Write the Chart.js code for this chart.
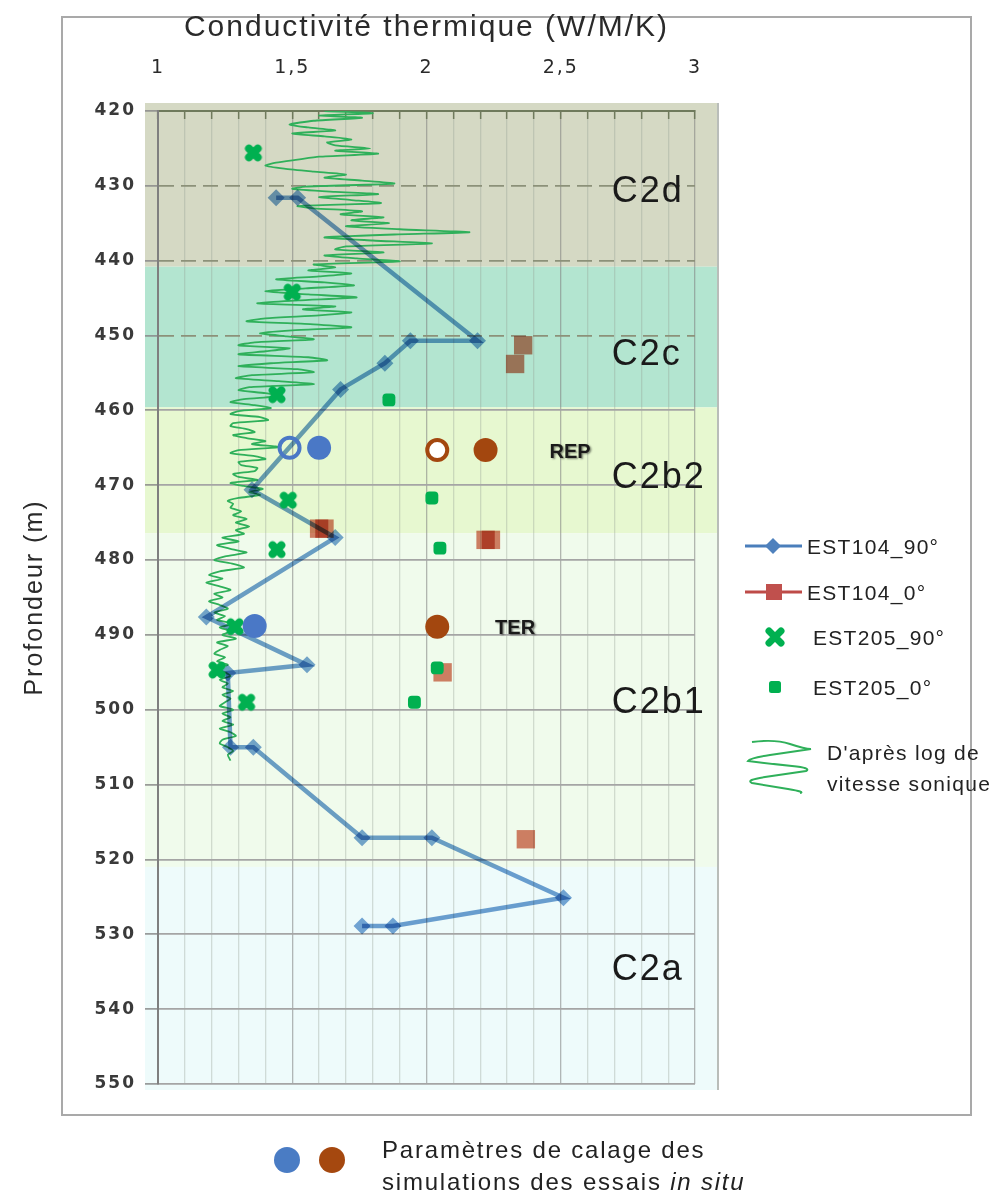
<!DOCTYPE html>
<html>
<head>
<meta charset="utf-8">
<script src="https://cdn.jsdelivr.net/npm/chart.js@4.4.1/dist/chart.umd.min.js"></script>
<style>
html,body{margin:0;padding:0;background:#fff;}
#wrap{position:relative;width:1006px;height:1198px;overflow:hidden;font-family:"Liberation Sans",Arial,sans-serif;}
#frame{position:absolute;left:61px;top:16px;width:911px;height:1100px;border:2px solid #a9a9a9;box-sizing:border-box;}
#c{position:absolute;left:0;top:0;width:1006px;height:1198px;}
#icons{position:absolute;left:0;top:0;width:1006px;height:1198px;pointer-events:none;}
.lg{position:absolute;transform:translateY(-50%);font-size:21px;letter-spacing:1.3px;color:#222;line-height:1;white-space:nowrap;}
.note{position:absolute;transform:translateY(-50%);font-size:24px;letter-spacing:1.8px;color:#222;line-height:1;white-space:nowrap;}
</style>
</head>
<body>
<div id="wrap">
  <div id="frame"></div>
  <canvas id="c" width="1006" height="1198"></canvas>
  <svg id="icons" width="1006" height="1198">
    <line x1="745" y1="546" x2="802" y2="546" stroke="#4a7ebb" stroke-width="3"/>
    <polygon points="773,538 781,546 773,554 765,546" fill="#4f81bd"/>
    <line x1="745" y1="592" x2="802" y2="592" stroke="#be4b48" stroke-width="3"/>
    <rect x="766" y="584" width="16" height="16" fill="#c0504d"/>
    <path d="M769 631 L781 643 M781 631 L769 643" stroke="#00b050" stroke-width="7" stroke-linecap="round" fill="none"/>
    <rect x="769" y="681" width="12" height="12" rx="2.5" fill="#00b050"/>
    <path d="M752 742 Q775 739 790 744 T811 749 Q790 752 770 755 T748 761 Q772 764 792 766 T806 771 Q785 774 765 777 T752 783 Q770 786 788 789 T800 793" stroke="#2fb05a" stroke-width="2" fill="none"/>
    <circle cx="287" cy="1160" r="13" fill="#4a7cc4"/>
    <circle cx="332" cy="1160" r="13" fill="#a5480f"/>
  </svg>
  <div class="lg" style="left:807px;top:546px;">EST104_90°</div>
  <div class="lg" style="left:807px;top:592px;">EST104_0°</div>
  <div class="lg" style="left:813px;top:637px;">EST205_90°</div>
  <div class="lg" style="left:813px;top:687px;">EST205_0°</div>
  <div class="lg" style="left:827px;top:752px;">D'après log de</div>
  <div class="lg" style="left:827px;top:783px;">vitesse sonique</div>
  <div class="note" style="left:382px;top:1150px;">Paramètres de calage des</div>
  <div class="note" style="left:382px;top:1182px;">simulations des essais <i>in situ</i></div>
</div>
<script>
// ---------- DATA ----------
const xMajorTicks = [1, 1.5, 2, 2.5, 3];
const xMajorLabels = ['1', '1,5', '2', '2,5', '3'];

const zoneNames = ['C2d', 'C2c', 'C2b2', 'C2b1', 'C2a'];
const zoneBounds = [420, 440.8, 459.6, 476.4, 521, 550];
const zoneLabelDepth = [430.8, 452.6, 469.0, 499.1, 534.8];
const zoneLabelK = 2.69;

const annotText = ['REP', 'TER'];
const annotK = [2.535, 2.33];
const annotDepth = [465.6, 489.1];

// EST104_90°
const est104_90_K = [1.44, 1.52, 2.19, 1.94, 1.845, 1.68, 1.35, 1.66, 1.18, 1.555, 1.26, 1.27, 1.355, 1.76, 2.02, 2.51, 1.875, 1.76];
const est104_90_D = [431.6, 431.6, 450.7, 450.7, 453.7, 457.2, 470.6, 477.0, 487.6, 494.0, 495.1, 505.0, 505.0, 517.1, 517.1, 525.1, 528.9, 528.9];

// EST104_0°
const est104_0_K = [2.36, 2.33, 1.60, 1.62, 2.22, 2.24, 2.06, 2.37];
const est104_0_D = [451.3, 453.8, 475.8, 475.8, 477.3, 477.3, 495.0, 517.3];

// EST205_90°
const est205_90_K = [1.355, 1.50, 1.443, 1.485, 1.443, 1.287, 1.22, 1.33];
const est205_90_D = [425.6, 444.2, 457.9, 472.0, 478.6, 488.9, 494.7, 499.0];

// EST205_0°
const est205_0_K = [1.86, 2.02, 2.05, 2.04, 1.955];
const est205_0_D = [458.6, 471.7, 478.4, 494.4, 499.0];

// Calibration parameters (in situ simulations)
const calBlueK = [1.60, 1.36];
const calBlueD = [465.0, 488.8];
const calBlueOpenK = [1.49];
const calBlueOpenD = [465.0];
const calBrownK = [2.22, 2.04];
const calBrownD = [465.3, 488.9];
const calBrownOpenK = [2.04];
const calBrownOpenD = [465.3];

// Sonic-velocity derived log
const sonicD = [420.0,420.3,420.6,420.9,421.3,421.8,422.2,422.6,423.0,423.4,423.8,424.2,424.6,425.0,425.3,425.7,426.1,426.5,426.9,427.3,427.7,428.1,428.5,428.9,429.3,429.7,430.1,430.4,430.8,431.1,431.5,431.9,432.3,432.7,433.0,433.4,433.8,434.2,434.6,435.0,435.4,435.8,436.2,436.5,436.9,437.3,437.7,438.1,438.5,438.9,439.3,439.7,440.1,440.5,440.9,
441.3,441.7,442.1,442.5,442.9,443.3,443.7,444.1,444.5,444.9,445.3,445.7,446.1,446.5,446.9,447.3,447.7,448.1,448.5,448.9,449.3,449.7,450.1,450.5,450.9,451.3,451.7,452.1,452.5,452.9,453.3,453.7,454.1,454.5,454.9,455.3,455.7,456.1,456.5,456.9,457.3,457.7,458.1,458.5,458.9,459.3,
459.7,460.1,460.5,460.9,461.3,461.7,462.1,462.5,462.9,463.3,463.7,464.1,464.5,464.9,465.3,465.7,466.1,466.5,466.9,467.3,467.7,468.1,468.5,468.9,469.3,469.7,470.1,470.5,470.9,471.3,471.7,472.1,472.5,473.0,473.5,474.0,474.5,475.0,475.5,476.0,476.5,477.0,477.5,478.0,478.5,479.0,479.5,480.0,480.5,481.0,481.5,482.0,482.5,483.0,483.5,484.0,484.5,485.0,485.5,486.0,486.5,487.0,487.5,488.0,488.5,489.0,489.5,490.0,490.5,491.0,491.5,492.0,492.5,493.0,493.5,494.0,494.5,495.0,495.5,496.0,496.5,497.0,497.5,498.0,498.5,499.0,499.5,500.0,500.5,501.0,501.5,502.0,502.5,503.0,503.5,504.0,504.5,505.0,505.5,506.0,506.8];
const sonicK = [1.62,1.80,1.60,1.76,1.58,1.49,1.56,1.66,1.50,1.62,1.72,1.63,1.66,1.79,1.66,1.82,1.60,1.52,1.44,1.40,1.47,1.58,1.70,1.62,1.76,1.88,1.55,1.50,1.66,1.82,1.60,1.72,1.83,1.52,1.58,1.76,1.68,1.84,1.72,1.86,1.70,1.90,2.16,1.88,1.62,1.80,2.02,1.70,1.66,1.84,1.62,1.74,1.90,1.58,1.66,
1.56,1.72,1.60,1.44,1.62,1.73,1.55,1.40,1.56,1.74,1.52,1.37,1.66,1.54,1.72,1.60,1.40,1.33,1.58,1.72,1.50,1.38,1.48,1.58,1.36,1.30,1.49,1.40,1.30,1.56,1.63,1.42,1.30,1.52,1.58,1.35,1.29,1.45,1.58,1.34,1.30,1.40,1.45,1.32,1.27,1.36,
1.42,1.30,1.27,1.38,1.41,1.28,1.27,1.33,1.36,1.28,1.33,1.40,1.35,1.45,1.30,1.27,1.36,1.40,1.30,1.31,1.37,1.36,1.28,1.30,1.37,1.27,1.32,1.39,1.34,1.38,1.30,1.26,1.28,1.27,1.31,1.28,1.33,1.29,1.34,1.29,1.32,1.24,1.30,1.22,1.27,1.33,1.25,1.21,1.28,1.32,1.23,1.19,1.24,1.18,1.23,1.27,1.21,1.24,1.19,1.23,1.26,1.21,1.25,1.22,1.28,1.23,1.27,1.24,1.29,1.22,1.26,1.23,1.21,1.25,1.22,1.26,1.21,1.25,1.27,1.23,1.26,1.24,1.28,1.24,1.27,1.25,1.23,1.28,1.24,1.27,1.24,1.28,1.23,1.27,1.29,1.24,1.23,1.26,1.28,1.26,1.27];

// ---------- helpers / styles ----------
const pts = (ks, ds) => ks.map((k, i) => ({x: k, y: ds[i]}));
const zoneColors = ['#d5d9c4', '#b3e5d0', '#e7f8d0', '#f0fbec', '#eefbfb'];
const isMajor = v => Math.abs(v * 2 - Math.round(v * 2)) < 1e-6;
const FONT = '"Liberation Sans", Arial, sans-serif';
const TICKFONT = '"DejaVu Sans", Verdana, sans-serif';

function makeClover(color, size) {
  const c = document.createElement('canvas');
  c.width = size; c.height = size;
  const g = c.getContext('2d');
  g.strokeStyle = color; g.lineWidth = size * 0.36; g.lineCap = 'round';
  const m = size * 0.3, M = size * 0.7;
  g.beginPath(); g.moveTo(m, m); g.lineTo(M, M); g.moveTo(M, m); g.lineTo(m, M); g.stroke();
  return c;
}
const clover = makeClover('#00b050', 22);

const decor = {
  id: 'decor',
  beforeDraw(chart) {
    const {ctx, chartArea: a, scales: {x, y}} = chart;
    ctx.save();
    const left = a.left - 13, right = a.right + 23;
    const n = zoneNames.length;
    let yTop = 0, yBot = 0;
    for (let i = 0; i < n; i++) {
      let y1 = y.getPixelForValue(zoneBounds[i]);
      let y2 = y.getPixelForValue(zoneBounds[i + 1]);
      if (i === 0) { y1 -= 8; yTop = y1; }
      if (i === n - 1) { y2 += 6; yBot = y2; }
      ctx.fillStyle = zoneColors[i];
      ctx.fillRect(left, y1, right - left, y2 - y1);
    }
    ctx.strokeStyle = '#b9bdb9';
    ctx.lineWidth = 2;
    ctx.beginPath(); ctx.moveTo(right, yTop); ctx.lineTo(right, yBot); ctx.stroke();
    ctx.restore();
    ctx.letterSpacing = '2px';
  },
  beforeDatasetsDraw(chart) {
    chart.ctx.letterSpacing = '0px';
  },
  beforeDatasetDraw(chart, args) {
    const ds = chart.data.datasets[args.index];
    if (ds.blend) chart.ctx.globalCompositeOperation = ds.blend;
  },
  afterDatasetDraw(chart) {
    chart.ctx.globalCompositeOperation = 'source-over';
  },
  afterDatasetsDraw(chart) {
    const {ctx, scales: {x, y}} = chart;
    ctx.save();
    ctx.letterSpacing = '2px';
    ctx.font = '36px ' + FONT;
    ctx.fillStyle = '#1a1a1a';
    ctx.textAlign = 'left';
    ctx.textBaseline = 'middle';
    zoneNames.forEach((nm, i) => {
      ctx.fillText(nm, x.getPixelForValue(zoneLabelK), y.getPixelForValue(zoneLabelDepth[i]));
    });
    ctx.letterSpacing = '0px';
    ctx.font = 'bold 20px ' + FONT;
    ctx.textAlign = 'center';
    ctx.shadowColor = 'rgba(0,0,0,0.45)';
    ctx.shadowOffsetX = 1.5; ctx.shadowOffsetY = 1.5; ctx.shadowBlur = 2;
    annotText.forEach((t, i) => {
      ctx.fillText(t, x.getPixelForValue(annotK[i]), y.getPixelForValue(annotDepth[i]));
    });
    ctx.restore();
  }
};

const blue90 = '#6fa0d2';
const red0 = '#d9806a';

new Chart(document.getElementById('c'), {
  type: 'scatter',
  data: {
    datasets: [
      { label: "D'après log de vitesse sonique", data: pts(sonicK, sonicD), showLine: true,
        borderColor: '#2fb05a', borderWidth: 1.8, pointRadius: 0, tension: 0.2, order: 6 },
      { label: 'EST104_90°', data: pts(est104_90_K, est104_90_D), showLine: true, blend: 'multiply',
        borderColor: blue90, backgroundColor: blue90, borderWidth: 4.5,
        pointStyle: 'rectRot', pointRadius: 8.5, pointBorderWidth: 0, pointBackgroundColor: '#78a6d6', order: 5 },
      { label: 'EST104_0°', data: pts(est104_0_K, est104_0_D), blend: 'multiply',
        borderColor: red0, backgroundColor: red0, borderWidth: 0, pointStyle: 'rect', pointRadius: 13, order: 4 },
      { label: 'EST205_90°', data: pts(est205_90_K, est205_90_D),
        pointStyle: clover, pointRadius: 10, order: 3 },
      { label: 'EST205_0°', data: pts(est205_0_K, est205_0_D),
        backgroundColor: '#00b050', borderColor: '#00b050', borderWidth: 0, pointStyle: 'rectRounded', pointRadius: 7.5, order: 2 },
      { label: 'calage bleu', data: pts(calBlueK, calBlueD),
        backgroundColor: '#4a78c6', borderColor: '#4a78c6', borderWidth: 0, pointRadius: 12, order: 1 },
      { label: 'calage bleu (ouvert)', data: pts(calBlueOpenK, calBlueOpenD),
        backgroundColor: 'rgba(0,0,0,0)', borderColor: '#4a78c6', borderWidth: 4, pointRadius: 10, order: 1 },
      { label: 'calage brun', data: pts(calBrownK, calBrownD),
        backgroundColor: '#a3470f', borderColor: '#a3470f', borderWidth: 0, pointRadius: 12, order: 1 },
      { label: 'calage brun (ouvert)', data: pts(calBrownOpenK, calBrownOpenD),
        backgroundColor: '#ffffff', borderColor: '#a3470f', borderWidth: 4, pointRadius: 10, order: 1 }
    ]
  },
  options: {
    responsive: false,
    animation: false,
    devicePixelRatio: 1,
    events: [],
    layout: { padding: { left: 0, top: 0, right: 311, bottom: 114 } },
    plugins: { legend: { display: false }, tooltip: { enabled: false } },
    scales: {
      x: {
        type: 'linear', position: 'top', min: 1, max: 3,
        afterFit: s => { s.height = 111; },
        ticks: {
          stepSize: 0.1, autoSkip: false, maxRotation: 0, padding: 40,
          color: '#2a2a2a', font: { family: TICKFONT, size: 19 },
          callback: v => { const i = xMajorTicks.findIndex(t => Math.abs(t - v) < 1e-6); return i >= 0 ? xMajorLabels[i] : ''; }
        },
        grid: {
          color: c => (c.tick && isMajor(c.tick.value)) ? 'rgba(125,125,125,0.55)' : 'rgba(150,160,150,0.35)',
          lineWidth: 1.3, tickLength: -8, tickColor: '#6f7a5c', tickWidth: 1.5
        },
        border: { display: true, color: '#6f7a5c', width: 2 },
        title: {
          display: true, text: 'Conductivité thermique (W/M/K)', color: '#2a2a2a',
          font: { family: FONT, size: 30, weight: 'normal' }, padding: { top: 10, bottom: 0 }
        }
      },
      y: {
        type: 'linear', position: 'left', reverse: true, min: 420, max: 550,
        afterFit: s => { s.width = 158; },
        ticks: {
          stepSize: 10, autoSkip: false, padding: 9, color: '#3a3a3a',
          font: { family: TICKFONT, size: 17, weight: 'bold' }
        },
        grid: {
          color: c => {
            if (!c.tick) return '#a5a5a5';
            const v = c.tick.value;
            if (v === 420) return 'rgba(0,0,0,0)';
            return (v >= 430 && v <= 450) ? '#8c9179' : '#a5a5a5';
          },
          lineWidth: 1.8, tickLength: 13, tickColor: '#8a8a8a', tickWidth: 1.5
        },
        border: {
          display: true, color: '#7f7f7f', width: 2,
          dash: c => (c.tick && c.tick.value >= 430 && c.tick.value <= 450) ? [15, 7] : []
        },
        title: {
          display: true, text: 'Profondeur (m)', color: '#2a2a2a',
          font: { family: FONT, size: 25, weight: 'normal' }, padding: { top: 20, bottom: 0 }
        }
      }
    }
  },
  plugins: [decor]
});
</script>
</body>
</html>
